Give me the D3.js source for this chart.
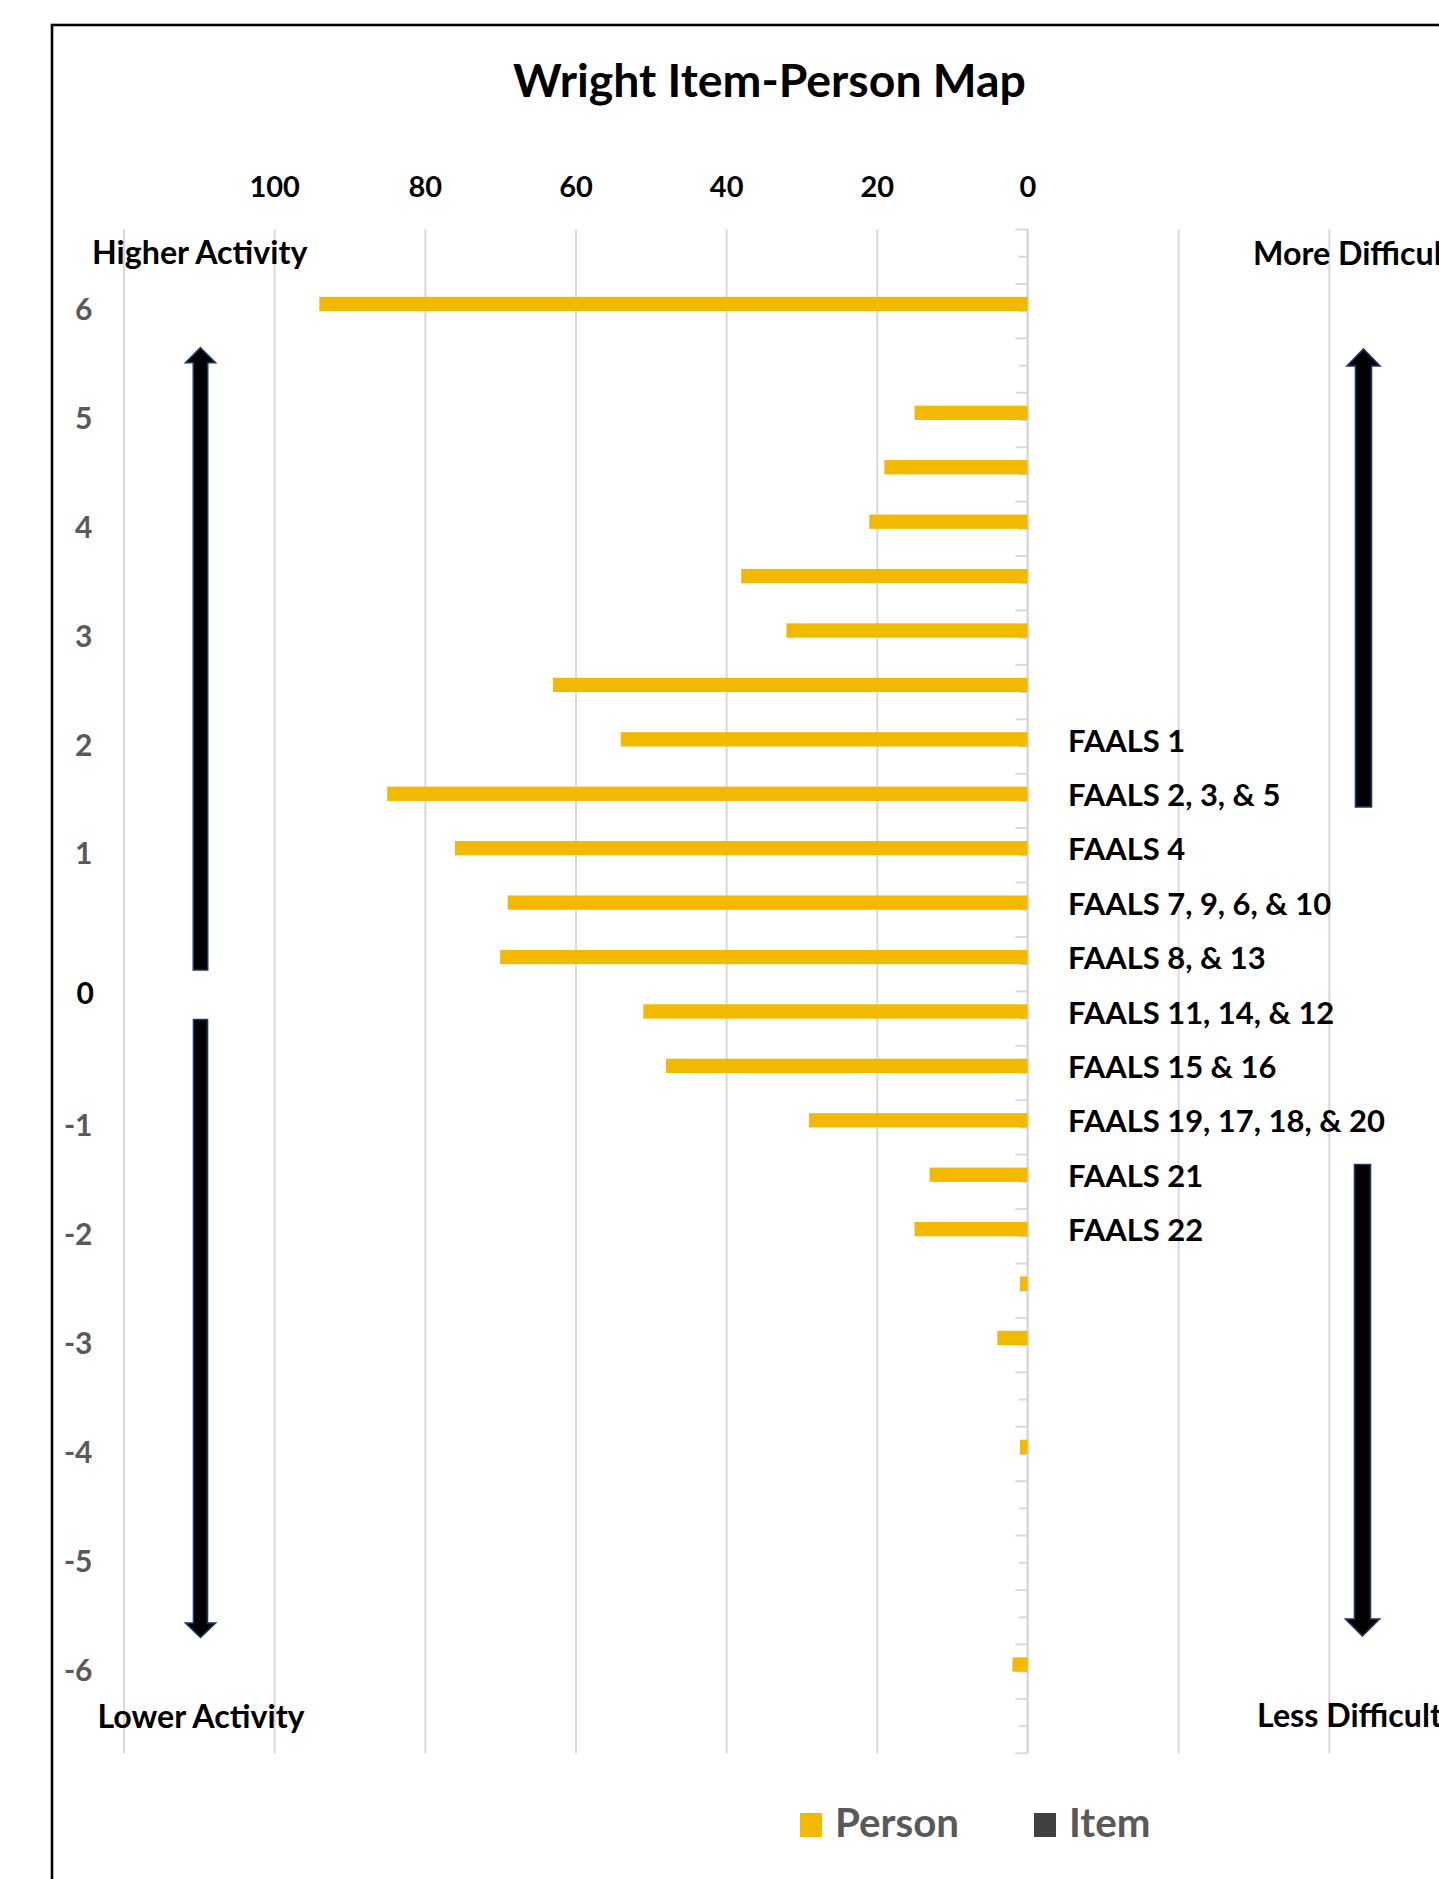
<!DOCTYPE html>
<html>
<head>
<meta charset="utf-8">
<script src="https://cdn.jsdelivr.net/npm/d3@7"></script>
<style>
  html, body { margin: 0; padding: 0; background: #ffffff; }
  svg { display: block; }
</style>
</head>
<body>
<svg id="chart" width="1439" height="1879"></svg>
<script>
// ---------------- DATA ----------------
const chartTitle = "Wright Item-Person Map";
// one entry per category row (top to bottom), logit scale labels
const rowLabels = ["", "6", "", "5", "", "4", "", "3", "", "2", "", "1", "", "", "", "",
                   "-1", "", "-2", "", "-3", "", "-4", "", "-5", "", "-6", ""];
// Person counts per row
const personCounts = [0, 94, 0, 15, 19, 21, 38, 32, 63, 54, 85, 76, 69, 70, 51, 48,
                      29, 13, 15, 1, 4, 0, 1, 0, 0, 0, 2, 0];
// Item labels per row
const itemLabels = ["", "", "", "", "", "", "", "", "", "FAALS 1", "FAALS 2, 3, & 5", "FAALS 4",
                    "FAALS 7, 9, 6, & 10", "FAALS 8, & 13", "FAALS 11, 14, & 12", "FAALS 15 & 16",
                    "FAALS 19, 17, 18, & 20", "FAALS 21", "FAALS 22", "", "", "", "", "", "", "", "", ""];
const gridTicks = [120, 100, 80, 60, 40, 20, 0, -20, -40, -60];
const xTickLabels = [100, 80, 60, 40, 20, 0];
const seriesNames = ["Person", "Item"];
const zeroLabel = "0";
const leftTopLabel = "Higher Activity";
const leftBottomLabel = "Lower Activity";
const rightTopLabel = "More Difficult";
const rightBottomLabel = "Less Difficult";

// ---------------- LAYOUT ----------------
const svg = d3.select("#chart");
const W = 1439, H = 1879;
const plot = { left: 123.5, right: 1479.5, top: 229.5, bottom: 1753.3 };
const FONT = "Lato, 'Open Sans', sans-serif";
const personColor = "#F1B900";
const itemColor = "#404040";
const gridColor = "#D9D9D9";

const x = d3.scaleLinear().domain([120, -60]).range([plot.left, plot.right]);
const y = d3.scaleBand().domain(d3.range(rowLabels.length)).range([plot.top, plot.bottom]).padding(0);
const bw = y.bandwidth();
const barH = bw * 0.263;

function fitWidth(sel, target) {
  const fs = parseFloat(sel.attr("font-size"));
  const w = sel.node().getComputedTextLength();
  if (w > 0) sel.attr("font-size", (fs * target / w).toFixed(2));
  return parseFloat(sel.attr("font-size"));
}

// outer frame
svg.append("rect").attr("x", 52).attr("y", 25).attr("width", 1500).attr("height", 2000)
  .attr("fill", "#fff").attr("stroke", "#000").attr("stroke-width", 2.6);

// title
const title = svg.append("text").attr("x", 769.5).attr("y", 97)
  .attr("text-anchor", "middle").attr("font-family", FONT).attr("font-weight", 700)
  .attr("font-size", 44).attr("fill", "#000").text(chartTitle);
fitWidth(title, 513);

// gridlines (vertical)
const gridAxis = d3.axisTop(x).tickValues(gridTicks).tickSize(-(plot.bottom - plot.top)).tickFormat("");
const gGrid = svg.append("g").attr("transform", `translate(0,${plot.top})`).call(gridAxis);
gGrid.select(".domain").remove();
gGrid.selectAll(".tick line").attr("stroke", gridColor).attr("stroke-width", 2);

// top tick labels
const labAxis = d3.axisTop(x).tickValues(xTickLabels).tickSize(0).tickPadding(32.5).tickFormat(d3.format("d"));
const gLab = svg.append("g").attr("transform", `translate(0,${plot.top})`).call(labAxis);
gLab.select(".domain").remove();
gLab.selectAll(".tick text").attr("font-family", FONT).attr("font-weight", 700)
  .attr("font-size", 29).attr("fill", "#000");

// category axis at zero: minor ticks at row centres via axis, major ticks at row boundaries
const x0 = x(0);
const catAxis = d3.axisLeft(y).tickSize(8.5).tickFormat("");
const gCat = svg.append("g").attr("transform", `translate(${x0},0)`).call(catAxis);
gCat.select(".domain").remove();
gCat.selectAll(".tick line").attr("stroke", gridColor).attr("stroke-width", 2);
const bounds = d3.range(rowLabels.length + 1).map(i => plot.top + i * bw);
svg.append("g").selectAll("line").data(bounds).join("line")
  .attr("x1", x0 - 12).attr("x2", x0).attr("y1", d => d).attr("y2", d => d)
  .attr("stroke", gridColor).attr("stroke-width", 2);
svg.append("line").attr("x1", x0).attr("x2", x0).attr("y1", plot.top).attr("y2", plot.bottom)
  .attr("stroke", gridColor).attr("stroke-width", 2.2);

// person bars
svg.append("g").selectAll("rect").data(personCounts.map((v, i) => ({ v, i })).filter(d => d.v > 0))
  .join("rect")
  .attr("x", d => x(d.v)).attr("width", d => x(0) - x(d.v))
  .attr("y", d => y(d.i) + bw / 2 - barH).attr("height", barH)
  .attr("fill", personColor);

// row labels at far left
const rowAxis = d3.axisLeft(y).tickSize(0).tickPadding(0).tickFormat(i => rowLabels[i]);
const gRow = svg.append("g").attr("transform", `translate(92.5,0)`).call(rowAxis);
gRow.select(".domain").remove();
gRow.selectAll(".tick text").attr("font-family", FONT).attr("font-weight", 700)
  .attr("font-size", 30).attr("fill", "#595959").attr("dy", "0.3em");

// zero label (between rows)
svg.append("text").attr("x", 94).attr("y", (y(13) + y(14) + bw) / 2 + 12.5)
  .attr("text-anchor", "end").attr("font-family", FONT).attr("font-weight", 700)
  .attr("font-size", 30).attr("fill", "#000").text(zeroLabel);

// item labels
const itemData = itemLabels.map((t, i) => ({ t, i })).filter(d => d.t);
const itemText = svg.append("g").selectAll("text").data(itemData).join("text")
  .attr("x", 1068).attr("y", d => y(d.i) + bw / 2 + 5)
  .attr("font-family", FONT).attr("font-weight", 700).attr("font-size", 30)
  .attr("fill", "#000").text(d => d.t);
// fit font size using the longest label
const longest = itemText.filter(d => d.t === "FAALS 19, 17, 18, & 20");
const fsItem = fitWidth(longest, 317);
itemText.attr("font-size", fsItem);

// side labels
const sideFS = (() => {
  const t = svg.append("text").attr("x", 92).attr("y", 264).attr("font-family", FONT)
    .attr("font-weight", 700).attr("font-size", 30).attr("fill", "#000").text(leftTopLabel);
  return fitWidth(t, 215.5);
})();
svg.append("text").attr("x", 201).attr("y", 1728).attr("text-anchor", "middle").attr("font-family", FONT)
  .attr("font-weight", 700).attr("font-size", sideFS).attr("fill", "#000").text(leftBottomLabel);
svg.append("text").attr("x", 1253).attr("y", 265).attr("font-family", FONT)
  .attr("font-weight", 700).attr("font-size", sideFS).attr("fill", "#000").text(rightTopLabel);
svg.append("text").attr("x", 1257).attr("y", 1726.5).attr("font-family", FONT)
  .attr("font-weight", 700).attr("font-size", sideFS).attr("fill", "#000").text(rightBottomLabel);

// arrows
function arrowPath(cx, tipY, headBaseY, endY, headHalf, shaftHalf) {
  const p = d3.path();
  p.moveTo(cx, tipY);
  p.lineTo(cx + headHalf, headBaseY);
  p.lineTo(cx + shaftHalf, headBaseY);
  p.lineTo(cx + shaftHalf, endY);
  p.lineTo(cx - shaftHalf, endY);
  p.lineTo(cx - shaftHalf, headBaseY);
  p.lineTo(cx - headHalf, headBaseY);
  p.closePath();
  return p.toString();
}
function bar(cx, y1, y2, half) {
  return `M${cx - half},${y1}H${cx + half}V${y2}H${cx - half}Z`;
}
const arrows = [
  arrowPath(200.5, 347.7, 362.7, 970, 15, 7.2),
  arrowPath(200.5, 1637.5, 1623, 1019.5, 15, 7),
  arrowPath(1363.5, 349, 366, 807, 16.5, 8),
  arrowPath(1362.5, 1636, 1619, 1164.5, 17, 8)
];
svg.append("g").selectAll("path").data(arrows).join("path")
  .attr("d", d => d).attr("fill", "#000").attr("stroke", "#203864").attr("stroke-width", 1.6)
  .attr("stroke-linejoin", "miter");

// legend
const legend = svg.append("g");
legend.append("rect").attr("x", 800).attr("y", 1813).attr("width", 22).attr("height", 24).attr("fill", personColor);
const lp = legend.append("text").attr("x", 835).attr("y", 1836.5).attr("font-family", FONT)
  .attr("font-weight", 700).attr("font-size", 34).attr("fill", "#595959").text(seriesNames[0]);
const legFS = fitWidth(lp, 124);
legend.append("rect").attr("x", 1034).attr("y", 1813).attr("width", 22).attr("height", 24).attr("fill", itemColor);
legend.append("text").attr("x", 1069).attr("y", 1836.5).attr("font-family", FONT)
  .attr("font-weight", 700).attr("font-size", legFS).attr("fill", "#595959").text(seriesNames[1]);
</script>
</body>
</html>
